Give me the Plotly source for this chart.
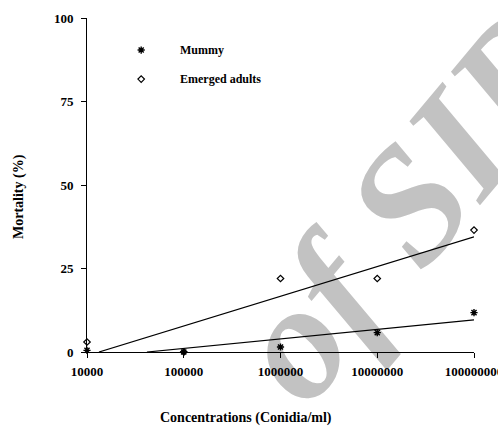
import numpy as np
import plotly.graph_objects as go

# Conidia concentrations (conidia/ml) and observed mortality (%)
concentrations = [1e4, 1e5, 1e6, 1e7, 1e8]
tick_labels = ["10000", "100000", "1000000", "10000000", "100000000"]
mummy = [0.5, 0.0, 1.5, 5.8, 11.8]
emerged_adults = [3.0, 0.0, 22.0, 22.0, 36.5]
series_names = ["Mummy", "Emerged adults"]

FONT = "Liberation Serif, Times New Roman, serif"
log_x = np.log10(concentrations)


def trend(values):
    """Least-squares line of mortality against log10(concentration),
    drawn from where it crosses 0 % up to the highest dose."""
    slope, intercept = np.polyfit(log_x, values, 1)
    x_start = max(log_x[0], -intercept / slope)
    xs = np.array([x_start, log_x[-1]])
    return 10 ** xs, intercept + slope * xs


fig = go.Figure()

styles = [
    dict(symbol="asterisk-open", size=6, line=dict(width=1.4, color="black")),
    dict(symbol="diamond-open", size=5, line=dict(width=1.2, color="black")),
]

for name, values, mk in zip(series_names, [mummy, emerged_adults], styles):
    tx, ty = trend(values)
    fig.add_trace(go.Scatter(x=tx, y=ty, mode="lines",
                             line=dict(color="black", width=1.2),
                             showlegend=False, hoverinfo="skip"))
    fig.add_trace(go.Scatter(x=concentrations, y=values, mode="markers",
                             marker=dict(color="black", **mk), name=name,
                             cliponaxis=False, showlegend=False))

# Hand-placed key on an overlay axis spanning the plot area (0..1)
key_x = 0.14
key_y = [0.904, 0.817]
for name, mk, ky in zip(series_names, styles, key_y):
    fig.add_trace(go.Scatter(x=[key_x], y=[ky], mode="markers",
                             marker=dict(color="black", **mk),
                             xaxis="x2", yaxis="y2", showlegend=False,
                             cliponaxis=False, hoverinfo="skip"))
    fig.add_annotation(x=key_x + 0.095, y=ky, xref="x2", yref="y2",
                       text=f"<b>{name}</b>", showarrow=False,
                       xanchor="left", yanchor="middle",
                       font=dict(family=FONT, size=12, color="black"))

axis_common = dict(showline=True, linecolor="black", linewidth=1,
                   ticks="outside", ticklen=5, tickwidth=1, tickcolor="black",
                   showgrid=False, zeroline=False, automargin=False,
                   tickfont=dict(family=FONT, size=13, color="black", weight="bold"))

fig.update_layout(
    width=498, height=428,
    margin=dict(l=87, r=24, t=18, b=76, autoexpand=False),
    paper_bgcolor="white",
    plot_bgcolor="rgba(0,0,0,0)",
    showlegend=False,
    xaxis=dict(type="log", range=[4, 8], tickvals=concentrations,
               ticktext=tick_labels, ticklabelstandoff=2,
               ticklabeloverflow="allow", **axis_common),
    yaxis=dict(range=[0, 100], tickvals=[0, 25, 50, 75, 100],
               ticklabelstandoff=5, **axis_common),
    xaxis2=dict(overlaying="x", range=[0, 1], visible=False, domain=[0, 1]),
    yaxis2=dict(overlaying="y", range=[0, 1], visible=False, domain=[0, 1]),
)

# Axis titles
fig.add_annotation(x=(245.5 - 87) / 387, y=-(418 - 352) / 334,
                   xref="paper", yref="paper",
                   text="<b>Concentrations (Conidia/ml)</b>", showarrow=False,
                   xanchor="center", yanchor="middle",
                   font=dict(family=FONT, size=14, color="black"))
fig.add_annotation(x=-(87 - 19) / 387, y=(352 - 197) / 334,
                   xref="paper", yref="paper", textangle=-90,
                   text="<b>Mortality (%)</b>", showarrow=False,
                   xanchor="center", yanchor="middle",
                   font=dict(family=FONT, size=14, color="black"))

# Archive watermark, kept underneath the data
fig.add_shape(type="rect", xref="paper", yref="paper",
              x0=0.70, x1=0.90, y0=0.40, y1=0.57,
              line=dict(width=0), fillcolor="rgba(0,0,0,0)", layer="below",
              label=dict(text="of SID", textangle=-50,
                         textposition="middle center",
                         font=dict(family=FONT, size=165, color="#c2c2c2",
                                   weight="bold", style="italic")))

fig.write_html("out.html")
